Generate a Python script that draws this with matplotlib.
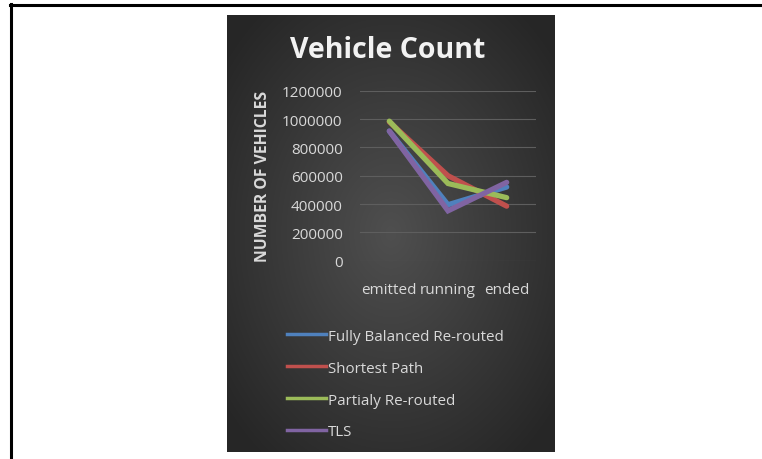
import numpy as np
import matplotlib
matplotlib.use("Agg")
import matplotlib.pyplot as plt
from matplotlib.lines import Line2D

categories = ["emitted", "running", "ended"]
series_names = ["Fully Balanced Re-routed", "Shortest Path", "Partialy Re-routed", "TLS"]
fully_balanced = [915000, 395000, 520000]
shortest_path = [980000, 600000, 385000]
partialy = [985000, 545000, 445000]
tls = [915000, 352000, 553000]
y_ticks = [0, 200000, 400000, 600000, 800000, 1000000, 1200000]

colors = ["#4F81BD", "#C0504D", "#9BBB59", "#8064A2"]
FONT = "Open Sans"
TXT = "#d9d9d9"

W, H = 762, 460
fig = plt.figure(figsize=(W / 100, H / 100), dpi=100)
fig.patch.set_facecolor("white")

def fx(x):
    return x / W

def fy(y):
    return 1 - y / H

# outer border (top and left)
fig.add_artist(Line2D([fx(10), 1.0], [fy(6), fy(6)], color="black", lw=2.2,
                      transform=fig.transFigure))
fig.add_artist(Line2D([fx(11), fx(11)], [fy(5), 0.0], color="black", lw=2.2,
                      transform=fig.transFigure))

# dark panel with radial gradient
px0, px1, py0, py1 = 227, 555, 16, 453
bg = fig.add_axes([fx(px0), fy(py1), fx(px1 - px0), (py1 - py0) / H])
gx = np.linspace(-1, 1, 300)
gy = np.linspace(-1, 1, 400)
GX, GY = np.meshgrid(gx, gy)
r = np.sqrt(GX ** 2 + (GY * 1.0) ** 2)
val = 0.31 - 0.16 * np.clip(r / 1.3, 0, 1)
img = np.dstack([val, val, val])
bg.imshow(img, aspect="auto", extent=[0, 1, 0, 1], interpolation="bilinear")
bg.set_axis_off()

# plot axes
ax0, ax1, ay0, ay1 = 360, 536, 91.7, 261.7
ax = fig.add_axes([fx(ax0), fy(ay1), fx(ax1 - ax0), (ay1 - ay0) / H])
ax.patch.set_alpha(0)
x = np.arange(len(categories))
for vals, c in zip([fully_balanced, shortest_path, partialy, tls], colors):
    ax.plot(x, vals, color=c, lw=3.8, solid_capstyle="round", solid_joinstyle="miter")
ax.set_xlim(-0.5, 2.5)
ax.set_ylim(0, 1200000)
ax.set_yticks(y_ticks)
ax.set_yticklabels([str(v) for v in y_ticks], fontfamily=FONT, fontsize=11, color=TXT)
ax.set_xticks(x)
ax.set_xticklabels(categories, fontfamily=FONT, fontsize=11, color=TXT)
ax.tick_params(axis="y", length=0, pad=12.5)
ax.tick_params(axis="x", length=0, pad=15)
ax.grid(axis="y", color="#5e5e5e", lw=0.8)
ax.set_axisbelow(True)
for s in ax.spines.values():
    s.set_visible(False)

ax.set_ylabel("NUMBER OF VEHICLES", fontfamily=FONT, fontweight="bold",
              fontsize=11.3, color=TXT, labelpad=8)

fig.text(fx(388), fy(50), "Vehicle Count", ha="center", va="center",
         fontfamily=FONT, fontweight="bold", fontsize=20.5, color="#f2f2f2")

handles = [Line2D([0], [0], color=c, lw=2.5) for c in colors]
leg = fig.legend(handles, series_names, loc="upper left",
                 bbox_to_anchor=(fx(273), fy(316)), frameon=False,
                 prop={"family": FONT, "size": 10.9}, labelcolor=TXT,
                 handlelength=2.6, handletextpad=0.1, labelspacing=1.12)

fig.savefig("out.png", dpi=100, facecolor="white")
